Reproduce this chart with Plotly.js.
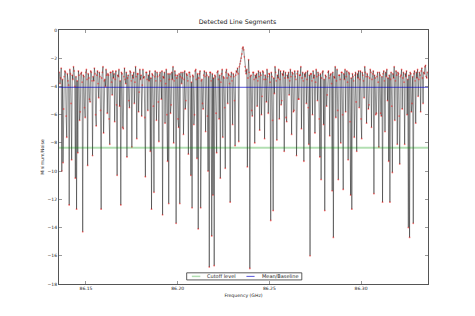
<!DOCTYPE html>
<html><head><meta charset="utf-8">
<script src="https://cdn.plot.ly/plotly-3.0.1.min.js"></script>
<style>html,body{margin:0;padding:0;background:#fff;}#chart{width:475px;height:316px;}</style>
</head><body><div id="chart"></div>
<script>
// channel grid (GHz)
const freqStart = 86.1355;
const freqStep = 0.000335;
// Minimum/Noise per channel
const minNoise = [
-3.0,-3.8,-3.4,-2.7,-10.0,-3.5,-9.4,-5.6,-3.3,-2.9,-3.0,-6.1,-7.6,-3.1,-3.6,-3.9,-12.4,-2.8,-3.1,-5.2,
-9.2,-3.2,-3.5,-2.6,-2.9,-4.0,-10.5,-3.3,-12.7,-3.6,-8.7,-2.9,-3.2,-6.4,-5.8,-3.1,-3.0,-3.7,-14.3,-3.2,
-3.3,-5.5,-6.2,-3.0,-2.8,-3.5,-9.6,-3.1,-3.4,-4.9,-5.1,-2.9,-3.0,-3.6,-8.9,-3.3,-3.6,-2.7,-3.1,-6.0,
-6.8,-3.2,-2.9,-3.8,-4.8,-3.0,-3.3,-5.7,-12.7,-3.4,-3.0,-2.6,-7.3,-3.6,-3.5,-4.0,-2.8,-3.2,-5.9,-3.1,
-3.2,-6.3,-8.1,-3.0,-3.0,-3.7,-4.6,-2.9,-3.4,-3.1,-6.5,-3.5,-2.9,-5.3,-10.3,-3.2,-3.3,-2.8,-5.4,-3.6,
-12.4,-3.0,-3.1,-6.9,-7.0,-3.3,-2.7,-3.5,-3.8,-3.0,-9.0,-3.4,-3.2,-5.0,-5.5,-2.9,-3.0,-3.6,-8.3,-3.2,
-3.4,-3.0,-5.2,-3.7,-2.6,-3.3,-7.7,-3.1,-3.1,-5.8,-4.4,-2.8,-3.5,-3.2,-6.1,-3.9,-2.8,-3.4,-3.3,-6.2,
-10.4,-3.0,-3.0,-3.5,-5.7,-3.2,-3.6,-2.9,-8.6,-3.4,-12.7,-3.1,-3.2,-5.4,-11.5,-3.3,-2.9,-3.6,-6.4,-3.0,
-3.3,-5.1,-7.9,-3.2,-3.0,-3.6,-4.9,-2.9,-13.1,-3.3,-3.4,-3.0,-6.6,-3.8,-2.8,-6.0,-9.3,-3.1,-12.3,-3.5,
-3.1,-5.9,-5.3,-3.0,-3.5,-2.6,-8.0,-3.6,-2.9,-3.2,-13.7,-3.4,-3.2,-6.3,-6.9,-3.1,-12.3,-3.3,-3.0,-3.8,
-3.4,-3.0,-7.4,-3.5,-2.9,-5.6,-5.0,-3.1,-3.2,-3.6,-8.8,-3.0,-3.0,-3.3,-10.3,-3.7,-12.6,-3.2,-3.3,-6.7,
-6.0,-2.9,-2.8,-3.5,-9.1,-3.1,-14.1,-3.4,-3.1,-2.9,-12.6,-3.6,-3.5,-5.2,-5.6,-3.2,-2.9,-3.3,-7.2,-3.0,
-3.2,-6.1,-10.0,-3.3,-16.8,-3.0,-3.0,-3.6,-14.6,-3.1,-11.7,-3.4,-16.7,-3.2,-3.3,-5.9,-8.7,-3.0,-2.9,-3.5,
-6.3,-3.2,-10.5,-3.7,-3.1,-2.8,-7.6,-3.3,-3.4,-5.5,-9.8,-3.0,-2.8,-3.4,-5.2,-3.1,-3.2,-3.8,-12.2,-3.3,
-3.0,-3.6,-6.7,-3.1,-3.3,-5.0,-8.2,-3.2,-2.9,-3.0,-2.7,-3.1,-7.9,-2.6,-2.4,-2.2,-2.0,-1.7,-1.3,-1.2,
-1.4,-1.9,-2.6,-2.9,-3.1,-2.8,-9.7,-3.4,-2.1,-3.0,-16.9,-3.3,-3.2,-5.7,-6.1,-3.0,-3.0,-3.5,-8.0,-3.2,
-3.4,-3.1,-5.4,-3.6,-2.9,-3.3,-7.1,-3.0,-3.2,-6.0,-4.7,-2.9,-3.0,-3.5,-7.7,-3.2,-3.5,-5.1,-2.8,-3.3,
-5.9,-3.1,-3.1,-3.7,-13.5,-3.0,-3.3,-6.4,-12.8,-3.4,-4.5,-2.6,-3.0,-3.6,-7.8,-3.2,-3.4,-2.8,-6.3,-3.5,
-2.9,-5.3,-5.0,-3.1,-3.2,-2.9,-8.6,-3.4,-3.0,-6.2,-6.5,-3.2,-3.4,-3.0,-4.6,-3.6,-2.8,-3.3,-7.4,-3.0,
-3.1,-5.8,-5.7,-2.9,-3.3,-3.5,-8.9,-3.1,-2.9,-4.9,-4.9,-3.2,-3.2,-2.6,-7.0,-3.4,-3.0,-3.6,-9.3,-3.1,
-3.3,-3.0,-5.2,-3.5,-2.9,-5.5,-8.1,-3.2,-16.0,-3.1,-3.1,-3.6,-6.0,-2.9,-3.4,-3.2,-7.3,-3.7,-2.8,-3.3,
-5.0,-3.0,-3.2,-6.3,-9.0,-3.1,-10.6,-3.4,-3.0,-2.9,-6.7,-3.5,-12.8,-3.2,-3.3,-5.4,-4.6,-3.0,-2.9,-3.4,
-7.5,-3.2,-3.1,-3.8,-11.4,-3.0,-14.7,-3.3,-3.4,-2.6,-6.2,-3.6,-2.8,-5.7,-10.6,-3.2,-3.2,-3.5,-8.0,-3.0,
-3.0,-6.0,-11.3,-3.1,-3.5,-2.8,-5.8,-3.3,-2.9,-3.7,-9.2,-3.0,-3.1,-6.5,-11.7,-3.4,-12.7,-3.1,-3.3,-3.6,
-7.6,-3.2,-3.0,-5.1,-8.6,-3.1,-3.4,-2.9,-5.5,-3.5,-2.9,-6.3,-7.7,-3.0,-3.2,-3.6,-4.8,-2.6,-3.0,-3.3,
-6.6,-3.1,-3.3,-5.6,-5.3,-3.4,-2.8,-3.0,-6.9,-3.5,-3.1,-2.9,-11.6,-3.2,-3.4,-6.0,-5.9,-3.3,-3.0,-3.7,
-8.3,-3.0,-3.2,-5.9,-6.1,-3.3,-12.2,-3.1,-2.9,-3.6,-7.2,-3.0,-3.3,-2.8,-5.0,-3.4,-9.3,-3.2,-12.2,-3.5,
-3.0,-5.4,-10.1,-3.1,-3.4,-2.6,-6.4,-3.6,-2.9,-3.2,-8.1,-3.0,-3.1,-6.1,-9.5,-3.3,-3.2,-2.8,-5.6,-3.4,
-3.0,-3.7,-8.1,-3.1,-3.3,-2.9,-6.0,-3.5,-14.0,-3.2,-14.7,-3.0,-3.1,-5.8,-5.2,-3.3,-13.7,-3.1,-2.9,-3.6,
-6.6,-3.0,-3.4,-2.8,-4.7,-3.5,-3.0,-3.2,-5.8,-2.9,-2.7,-3.4,-5.2,-3.0,-3.1,-2.6,-2.5,-3.3,-3.4,-3.0
];
const cutoffLevel = -8.34;
const meanBaseline = -4.06;
const xRange = [86.1353, 86.3365];
const yRange = [-18, 0];
const xTicks = [86.15, 86.20, 86.25, 86.30];
const legendNames = ['Cutoff level', 'Mean/Baseline'];
const cutoffColor = 'rgba(0,150,0,0.3)';
const baseColor = 'rgba(0,0,200,0.85)';

const freqs = minNoise.map((_, i) => freqStart + i * freqStep);

const traces = [
  {x: freqs, y: minNoise, type: 'scatter', mode: 'lines', showlegend: false,
   line: {color: 'rgba(0,0,0,0.42)', width: 1}, hoverinfo: 'skip'},
  {x: freqs, y: minNoise, type: 'scatter', mode: 'markers', showlegend: false,
   marker: {color: 'rgba(255,0,0,0.45)', size: 1.8}, hoverinfo: 'skip'},
  {x: xRange, y: [cutoffLevel, cutoffLevel], type: 'scatter', mode: 'lines', name: legendNames[0],
   showlegend: false, line: {color: cutoffColor, width: 2}},
  {x: xRange, y: [meanBaseline, meanBaseline], type: 'scatter', mode: 'lines', name: legendNames[1],
   showlegend: false, line: {color: baseColor, width: 0.8}}
];

const axisCommon = {
  showgrid: false, zeroline: false, showline: true, linecolor: '#555', linewidth: 1,
  mirror: 'ticks', ticks: 'inside', ticklen: 3, tickcolor: '#555', tickwidth: 0.6,
  tickfont: {size: 4.5, color: '#222'}
};

// legend box geometry in paper units (hand-built legend)
const lg = {x0: 0.346, x1: 0.658, y0: 0.016, y1: 0.044};
const ly = (lg.y0 + lg.y1) / 2;

const layout = {
  width: 475, height: 316,
  margin: {l: 59, r: 47, t: 30, b: 32},
  paper_bgcolor: '#fff', plot_bgcolor: '#fff',
  font: {family: 'DejaVu Sans', size: 5, color: '#222'},
  showlegend: false,
  title: {text: 'Detected Line Segments', font: {size: 6.3, color: '#222'}, x: 0.5, xanchor: 'center', y: 0.925, yanchor: 'bottom'},
  xaxis: Object.assign({}, axisCommon, {range: xRange, tickvals: xTicks, tickformat: '.2f', ticklabelstandoff: 0,
    title: {text: 'Frequency (GHz)', font: {size: 4.6}, standoff: 3}}),
  yaxis: Object.assign({}, axisCommon, {range: yRange, dtick: 2, tick0: 0, ticklabelstandoff: 0,
    title: {text: 'Minimum/Noise', font: {size: 4.6}, standoff: 2}}),
  shapes: [
    {type: 'rect', xref: 'paper', yref: 'paper', x0: lg.x0, x1: lg.x1, y0: lg.y0, y1: lg.y1,
     line: {color: '#333', width: 0.8}, fillcolor: '#fff', layer: 'above'},
    {type: 'line', xref: 'paper', yref: 'paper', x0: 0.36, x1: 0.383, y0: ly, y1: ly,
     line: {color: cutoffColor, width: 1.5}, layer: 'above'},
    {type: 'line', xref: 'paper', yref: 'paper', x0: 0.508, x1: 0.53, y0: ly, y1: ly,
     line: {color: baseColor, width: 0.8}, layer: 'above'}
  ],
  annotations: [
    {xref: 'paper', yref: 'paper', x: 0.395, y: ly, xanchor: 'left', yanchor: 'middle', showarrow: false,
     text: legendNames[0], font: {size: 5, color: '#222'}},
    {xref: 'paper', yref: 'paper', x: 0.545, y: ly, xanchor: 'left', yanchor: 'middle', showarrow: false,
     text: legendNames[1], font: {size: 5, color: '#222'}}
  ]
};

Plotly.newPlot('chart', traces, layout, {staticPlot: true, displayModeBar: false});
</script>
</body></html>
